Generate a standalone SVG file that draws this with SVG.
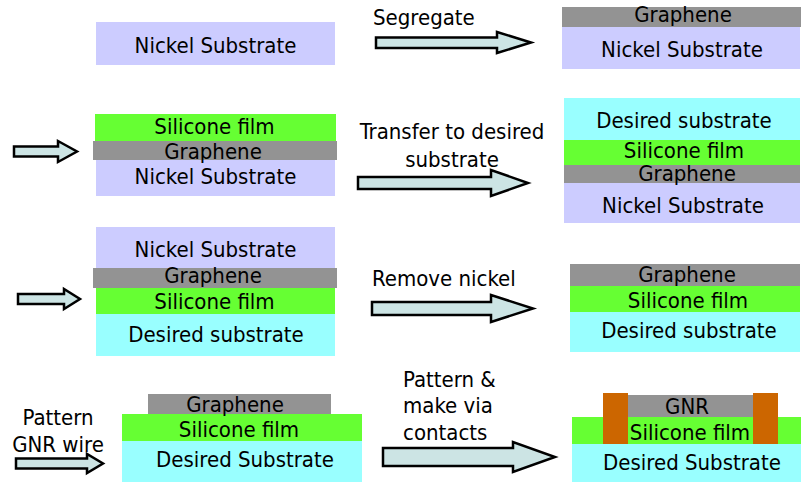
<svg xmlns="http://www.w3.org/2000/svg" width="801" height="482" viewBox="0 0 801 482">
<style>
text{font-family:"DejaVu Sans Condensed","DejaVu Sans","Liberation Sans",sans-serif;font-stretch:condensed;font-size:22px;fill:#000}
.c{text-anchor:middle}
.ni{fill:#ccccff}
.gr{fill:#939393}
.si{fill:#66ff33}
.de{fill:#99ffff}
.au{fill:#cc6600}
.arr{fill:#cce4e4;stroke:#000;stroke-width:2.5;stroke-linejoin:miter}
</style>
<rect width="801" height="482" fill="#fff"/>
<g id="stack1">
<rect class="ni" x="96" y="22" width="239" height="43"/>
<text class="c" x="215.5" y="53">Nickel Substrate</text>
</g>
<g id="stack2">
<rect class="gr" x="562" y="7" width="239" height="20"/>
<rect class="ni" x="562" y="27" width="238" height="42"/>
<text class="c" x="683" y="22">Graphene</text>
<text class="c" x="682" y="57">Nickel Substrate</text>
</g>
<g id="stack3">
<rect class="si" x="95" y="114" width="241" height="27"/>
<rect class="gr" x="93" y="141" width="244" height="19"/>
<rect class="ni" x="96" y="160" width="239" height="36"/>
<text class="c" x="214.5" y="134">Silicone film</text>
<text class="c" x="213" y="158.5">Graphene</text>
<text class="c" x="215.5" y="184">Nickel Substrate</text>
</g>
<g id="stack4">
<rect class="de" x="564" y="98" width="236" height="42"/>
<rect class="si" x="564" y="140" width="236" height="25"/>
<rect class="gr" x="564" y="165" width="236" height="18"/>
<rect class="ni" x="564" y="183" width="236" height="40"/>
<text class="c" x="684" y="128">Desired substrate</text>
<text class="c" x="684" y="157.5">Silicone film</text>
<text class="c" x="687" y="181">Graphene</text>
<text class="c" x="683" y="213">Nickel Substrate</text>
</g>
<g id="stack5">
<rect class="ni" x="96" y="227" width="239" height="41"/>
<rect class="gr" x="93" y="268" width="244" height="20"/>
<rect class="si" x="96" y="288" width="239" height="26"/>
<rect class="de" x="96" y="314" width="239" height="42"/>
<text class="c" x="215.5" y="257">Nickel Substrate</text>
<text class="c" x="213" y="283">Graphene</text>
<text class="c" x="214.5" y="309">Silicone film</text>
<text class="c" x="216" y="342">Desired substrate</text>
</g>
<g id="stack6">
<rect class="gr" x="570" y="264" width="230" height="22"/>
<rect class="si" x="570" y="286" width="230" height="26"/>
<rect class="de" x="570" y="312" width="230" height="40"/>
<text class="c" x="687" y="282">Graphene</text>
<text class="c" x="688" y="308">Silicone film</text>
<text class="c" x="689" y="338">Desired substrate</text>
</g>
<g id="stack7">
<rect class="gr" x="148" y="394" width="183" height="20"/>
<rect class="si" x="122" y="414" width="240" height="27"/>
<rect class="de" x="122" y="441" width="240" height="41"/>
<text class="c" x="235" y="412">Graphene</text>
<text class="c" x="239" y="437">Silicone film</text>
<text class="c" x="245" y="467">Desired Substrate</text>
</g>
<g id="stack8">
<rect class="gr" x="628" y="395" width="125" height="22"/>
<rect class="si" x="572" y="417" width="229" height="27"/>
<rect class="de" x="572" y="444" width="229" height="38"/>
<rect class="au" x="603" y="393" width="25" height="51"/>
<rect class="au" x="753" y="393" width="25" height="51"/>
<text class="c" x="687" y="414">GNR</text>
<text class="c" x="690" y="440">Silicone film</text>
<text class="c" x="692" y="470">Desired Substrate</text>
</g>
<g id="connectors">
<polygon class="arr" points="376,37.5 497,37.5 497,32 531,42.5 497,53 497,48 376,48"/>
<polygon class="arr" points="14,146.5 58,146.5 58,141 77,151.5 58,162 58,156.5 14,156.5"/>
<polygon class="arr" points="358,177 491,177 491,170 528,183 491,196 491,189 358,189"/>
<polygon class="arr" points="18,294 64,294 64,289 80,299 64,309 64,304 18,304"/>
<polygon class="arr" points="372,302 491,302 491,295 533,308.5 491,322 491,315 372,315"/>
<polygon class="arr" points="16,458.5 87,458.5 87,454 103,463.5 87,473 87,468.5 16,468.5"/>
<polygon class="arr" points="383,448 513,448 513,442 555,457 513,472 513,466 383,466"/>
<text x="373" y="25">Segregate</text>
<text class="c" x="452" y="139">Transfer to desired</text>
<text class="c" x="452" y="167">substrate</text>
<text x="372" y="286">Remove nickel</text>
<text class="c" x="58" y="425">Pattern</text>
<text class="c" x="58" y="452">GNR wire</text>
<text x="403" y="387">Pattern &amp;</text>
<text x="403" y="413">make via</text>
<text x="403" y="440">contacts</text>
</g>
</svg>
